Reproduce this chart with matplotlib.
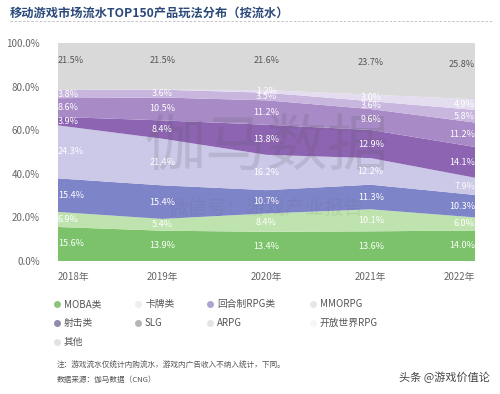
import matplotlib
matplotlib.use("Agg")
import matplotlib.pyplot as plt
from matplotlib.lines import Line2D
import numpy as np

plt.rcParams['font.family'] = ['Noto Sans CJK SC', 'DejaVu Sans']

years = ["2018年", "2019年", "2020年", "2021年", "2022年"]
series_names = ["MOBA类", "卡牌类", "回合制RPG类", "MMORPG", "射击类", "SLG", "ARPG", "开放世界RPG", "其他"]
moba = [15.6, 13.9, 13.4, 13.6, 14.0]
card = [6.9, 5.4, 8.4, 10.1, 6.0]
turn_rpg = [15.4, 15.4, 10.7, 11.3, 10.3]
mmorpg = [24.3, 21.4, 16.2, 12.2, 7.9]
shooter = [3.9, 8.4, 13.8, 12.9, 14.1]
slg = [8.6, 10.5, 11.2, 9.6, 11.2]
arpg = [3.8, 3.6, 3.5, 3.6, 5.8]
open_world = [0.0, 0.0, 1.2, 3.0, 4.9]
other = [21.5, 21.5, 21.6, 23.7, 25.8]
values = [moba, card, turn_rpg, mmorpg, shooter, slg, arpg, open_world, other]
colors = ["#7cc26a", "#bfe3ae", "#7e84c8", "#cbc8e8", "#8c64b2", "#a78ac6",
          "#c8b6df", "#e4ddf0", "#d9d9d9"]
legend_colors = ["#8cc47c", "#eeeeee", "#a9a6d2", "#e6e6e6", "#8e8cab", "#b4b4b4",
                 "#e4e4e4", "#f6f6f6", "#e2e2e2"]

fig = plt.figure(figsize=(5.0, 3.94), dpi=100)
ax = fig.add_axes([58/500, (394-261)/394, (475-58)/500, 218/394])
x = np.arange(len(years))
ax.stackplot(x, *values, colors=colors, linewidth=0)
ax.set_xlim(0, len(years)-1)
ax.set_ylim(0, 100)
for s in ax.spines.values():
    s.set_visible(False)
ax.tick_params(length=0)
ax.set_yticks([0, 20, 40, 60, 80, 100])
ax.set_yticklabels(["0.0%", "20.0%", "40.0%", "60.0%", "80.0%", "100.0%"], fontsize=7, color="#666666")
ax.tick_params(axis='y', pad=13)
ax.set_xticks(x)
ax.set_xticklabels(years, fontsize=7, color="#666666")
ax.tick_params(axis='x', pad=8)
for i, t in enumerate(ax.get_xticklabels()):
    if i == 0:
        t.set_ha('left')
    elif i == len(years)-1:
        t.set_ha('right')

# watermark (behind labels)
ax.text(2.0, 52, "伽马数据", ha='center', va='center', fontsize=44, color="#555555",
        alpha=0.16, zorder=2)
ax.text(2.0, 24, "微信号：游戏产业报告", ha='center', va='center', fontsize=14,
        color="#555555", alpha=0.10, zorder=2)

# data labels
cum = np.zeros(len(years))
for k, vals in enumerate(values):
    vals = np.array(vals)
    for i in range(len(years)):
        if vals[i] <= 0:
            continue
        yc = cum[i] + vals[i] / 2
        if k == len(values) - 1:
            yc = cum[i] + vals[i] * 0.62
        ha = 'center'
        if i == 0:
            ha = 'left'
        elif i == len(years)-1:
            ha = 'right'
        col = "#555555" if k == len(values)-1 else "white"
        ax.text(i, yc, f"{vals[i]:.1f}%", ha=ha, va='center', fontsize=6.5, color=col, zorder=3)
    cum += vals

# title and dashed line
fig.text(10/500, 1-13/394, "移动游戏市场流水TOP150产品玩法分布（按流水）", fontsize=8.8,
         fontweight='bold', color="#2b4a7a", ha='left', va='center')
fig.add_artist(Line2D([10/500, 492/500], [1-21/394, 1-21/394], color="#bbbbbb",
                      linewidth=0.6, linestyle=(0, (3, 2))))

# legend
col_x = [57, 138, 210, 313]
row_y = [304, 323, 342]
for idx, name in enumerate(series_names):
    r, c = divmod(idx, 4)
    px, py = col_x[c], row_y[r]
    fig.add_artist(Line2D([px/500], [1-py/394], marker='o', markersize=4,
                          color=legend_colors[idx], linestyle='none'))
    fig.text((px+7)/500, 1-py/394, name, fontsize=7, color="#555555", ha='left', va='center')

# notes
fig.text(57/500, 1-366/394, "注：游戏流水仅统计内购流水，游戏内广告收入不纳入统计，下同。",
         fontsize=5.5, color="#555555", ha='left', va='center')
fig.text(57/500, 1-380/394, "数据来源：伽马数据（CNG）", fontsize=5.5, color="#555555",
         ha='left', va='center')
fig.text(490/500, 1-377/394, "头条 @游戏价值论", fontsize=8, color="#444444", ha='right', va='center')

fig.savefig("out.png", dpi=100)
